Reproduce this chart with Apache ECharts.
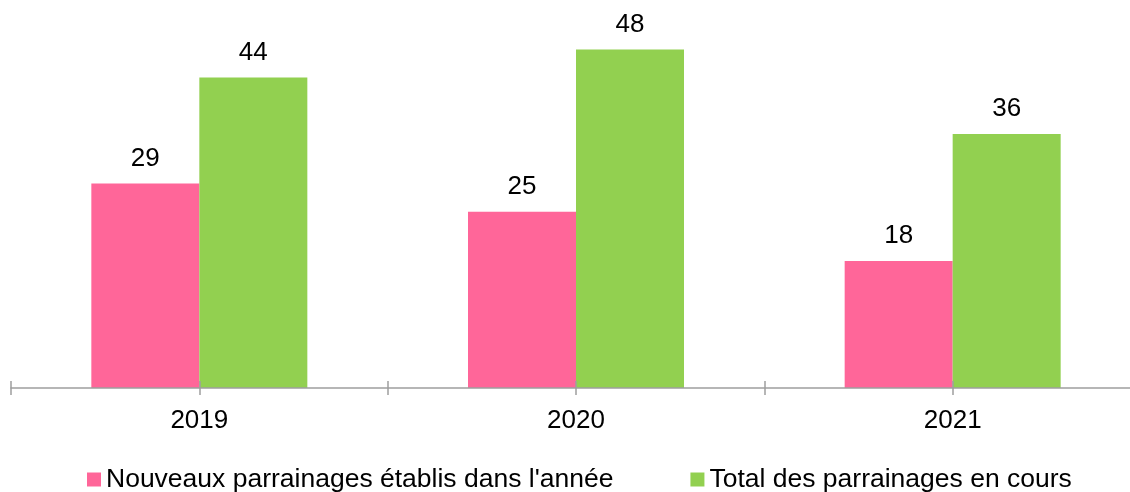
<!DOCTYPE html>
<html>
<head>
<meta charset="utf-8">
<script src="https://cdn.jsdelivr.net/npm/echarts@6/dist/echarts.min.js"></script>
<style>
  html, body { margin: 0; padding: 0; background: #fff; overflow: hidden; }
  /* l'axe déborde un peu à droite dans l'original */
  #chart { width: 1141px; height: 492px; }
</style>
</head>
<body>
<div id="chart"></div>
<script>
  // données
  const years = ['2019', '2020', '2021'];
  const nouveaux = [29, 25, 18];
  const total = [44, 48, 36];
  const seriesNames = ["Nouveaux parrainages établis dans l'année", 'Total des parrainages en cours'];

  const FONT = '"Liberation Sans", Arial, sans-serif';
  const axisGrey = '#9E9E9E';

  const chart = echarts.init(document.getElementById('chart'));

  const gridBox = () => ({ left: 11, right: 0, top: 0, bottom: 104, containLabel: false });

  // axe fantôme (grille superposée) : graduations aux limites et aux milieux des catégories,
  // une fois vers le haut, une fois vers le bas ; dessiné par-dessus les barres
  const tickAxis = (gridIndex, inside) => ({
    type: 'value',
    gridIndex,
    z: 5,
    min: 0,
    max: years.length * 2,
    interval: 1,
    axisLine: { show: !inside, onZero: false, lineStyle: { color: axisGrey, width: 1.5 } },
    axisTick: { show: true, inside, length: 7, lineStyle: { color: axisGrey, width: 1.5 } },
    axisLabel: { show: false },
    splitLine: { show: false },
  });

  const labelStyle = {
    show: true,
    position: 'top',
    distance: 12,
    color: '#000',
    fontSize: 26,
    fontFamily: FONT,
  };

  chart.setOption({
    animation: false,
    textStyle: { fontFamily: FONT },
    grid: [gridBox(), gridBox(), gridBox()],
    legend: {
      left: 87,
      top: 466,
      padding: 0,
      itemWidth: 14,
      itemHeight: 14,
      itemGap: 77,
      icon: 'rect',
      textStyle: { fontSize: 26.5, color: '#000', fontFamily: FONT },
      data: seriesNames,
    },
    xAxis: [
      {
        type: 'category',
        gridIndex: 0,
        data: years,
        axisLine: { show: false },
        axisTick: { show: false },
        axisLabel: { color: '#000', fontSize: 26, fontFamily: FONT, margin: 20 },
      },
      tickAxis(1, false),
      tickAxis(2, true),
    ],
    yAxis: [
      { type: 'value', gridIndex: 0, min: 0, max: 55, show: false },
      { type: 'value', gridIndex: 1, min: 0, max: 55, show: false },
      { type: 'value', gridIndex: 2, min: 0, max: 55, show: false },
    ],
    series: [
      {
        name: seriesNames[0],
        type: 'bar',
        data: nouveaux,
        barWidth: 108,
        barGap: '0%',
        itemStyle: { color: '#FF6699' },
        label: labelStyle,
      },
      {
        name: seriesNames[1],
        type: 'bar',
        data: total,
        barWidth: 108,
        barGap: '0%',
        itemStyle: { color: '#92D050' },
        label: labelStyle,
      },
    ],
  });
</script>
</body>
</html>
